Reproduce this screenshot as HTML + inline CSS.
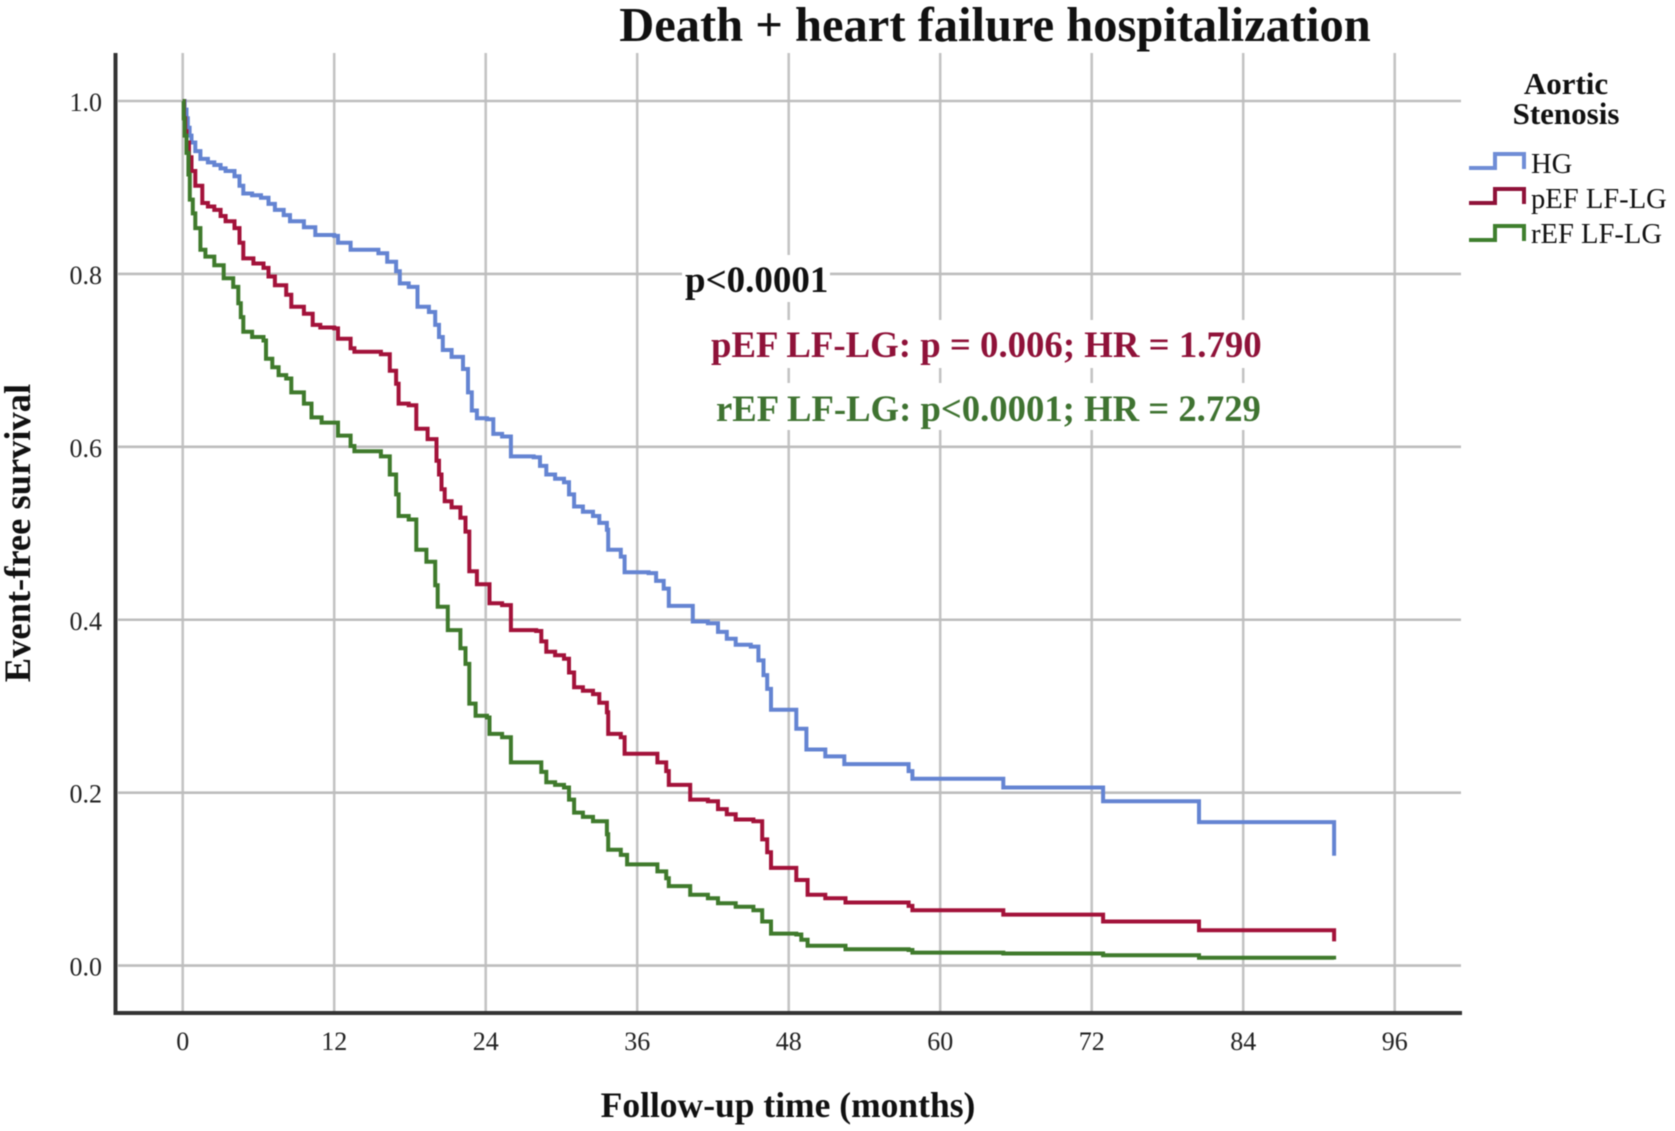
<!DOCTYPE html>
<html lang="en">
<head>
<meta charset="utf-8">
<title>Death + heart failure hospitalization</title>
<style>
html,body{margin:0;padding:0;background:#fff;}
svg{display:block;filter:blur(0.5px);}
text{font-family:"Liberation Serif",serif;}
</style>
</head>
<body>
<svg id="chart" xmlns="http://www.w3.org/2000/svg" width="1675" height="1131" viewBox="0 0 1675 1131">
  <g id="grid"></g>
  <rect x="682" y="255" width="148" height="47" fill="#fff"/>
  <rect x="706" y="320" width="558" height="48" fill="#fff"/>
  <rect x="711" y="383" width="553" height="47" fill="#fff"/>
  <g id="axes"></g>
  <g id="series"></g>

  <text x="995" y="41" text-anchor="middle" font-size="48.5" font-weight="bold" fill="#111">Death + heart failure hospitalization</text>
  <text transform="translate(30,533) rotate(-90)" text-anchor="middle" font-size="36.5" font-weight="bold" fill="#111">Event-free survival</text>
  <text x="788" y="1117" text-anchor="middle" font-size="35.5" font-weight="bold" fill="#111">Follow-up time (months)</text>

  <text x="685" y="292" font-size="37" font-weight="bold" fill="#111">p&lt;0.0001</text>
  <text x="711" y="357" font-size="36.8" font-weight="bold" fill="#8f1239">pEF LF-LG: p = 0.006; HR = 1.790</text>
  <text x="716" y="421" font-size="36.7" font-weight="bold" fill="#3f7331">rEF LF-LG: p&lt;0.0001; HR = 2.729</text>

  <g>
    <text x="1566" y="94" text-anchor="middle" font-size="31" font-weight="bold" fill="#111">Aortic</text>
    <text x="1566" y="124" text-anchor="middle" font-size="31" font-weight="bold" fill="#111">Stenosis</text>
    <path d="M1469 168H1495V154H1524V169" fill="none" stroke="#6f8dd6" stroke-width="4"/>
    <text x="1531" y="173" font-size="28.6" fill="#111">HG</text>
    <path d="M1469 203H1495V189H1524V204" fill="none" stroke="#8f1239" stroke-width="4"/>
    <text x="1531" y="208" font-size="28.6" fill="#111">pEF LF-LG</text>
    <path d="M1469 240H1495V226H1524V241" fill="none" stroke="#3f7f2e" stroke-width="4"/>
    <text x="1531" y="243" font-size="28.6" fill="#111">rEF LF-LG</text>
  </g>
</svg>
<script>
var xTickLabels = ["0","12","24","36","48","60","72","84","96"];
var xTickValues = [0,12,24,36,48,60,72,84,96];
var yTickLabels = ["0.0","0.2","0.4","0.6","0.8","1.0"];
var yTickValues = [0,0.2,0.4,0.6,0.8,1];

var hgMonths = [0,0.15,0.3,0.4,0.55,0.7,1,1.4,2,2.5,3,3.4,4.1,4.5,4.8,5.5,6.2,6.8,7.3,8,8.5,9.6,10.5,12,12.3,13.3,15.5,16.2,16.9,17.2,17.9,18.6,19.5,20,20.3,20.6,21.3,22.2,22.6,22.9,23.3,24.1,24.6,25.3,26,27.8,28.3,28.8,29.5,30.2,30.6,31,31.7,32.5,33,33.6,33.7,34.7,35,36.9,37.5,38.1,38.5,40.1,40.4,41.6,42.4,43.1,43.8,45,45.6,46,46.3,46.6,48.6,49.4,50.9,52.4,57.5,57.8,65,72.9,80.5,91.2];
var hgSurvival = [1,0.99,0.98,0.969,0.96,0.952,0.942,0.933,0.929,0.926,0.922,0.919,0.913,0.902,0.893,0.891,0.888,0.881,0.874,0.868,0.861,0.854,0.845,0.844,0.836,0.828,0.824,0.814,0.803,0.789,0.785,0.762,0.756,0.741,0.727,0.712,0.704,0.690,0.663,0.642,0.633,0.632,0.615,0.612,0.589,0.588,0.578,0.568,0.563,0.559,0.545,0.531,0.525,0.520,0.512,0.504,0.481,0.473,0.455,0.454,0.445,0.436,0.416,0.416,0.398,0.396,0.386,0.378,0.371,0.369,0.353,0.336,0.320,0.296,0.274,0.250,0.242,0.233,0.225,0.216,0.206,0.190,0.166,0.127];

var pefMonths = [0,0.1,0.2,0.3,0.5,0.7,1,1.55,2,2.5,3,3.4,4.1,4.5,4.8,5.6,6.4,6.8,7.3,8.2,8.6,9.6,10.3,10.9,12,12.3,13.3,13.6,15.7,16.4,16.9,17.1,17.9,18.5,19.4,20.1,20.3,20.5,20.75,21.3,22,22.4,22.7,23.3,24.3,25.3,26,28,28.4,28.8,29.5,30.2,30.6,31,31.7,32.5,33,33.6,33.7,34.7,35,36.9,37.6,38.3,38.5,40.2,40.4,41.6,42.4,43.1,43.8,45.2,45.9,46.3,46.6,48.6,49.5,50.9,52.5,57.5,57.8,65,72.9,80.5,91.2];
var pefSurvival = [1,0.98,0.965,0.952,0.935,0.919,0.902,0.882,0.878,0.874,0.867,0.861,0.853,0.836,0.818,0.812,0.807,0.797,0.787,0.776,0.762,0.754,0.741,0.738,0.737,0.725,0.714,0.710,0.707,0.688,0.673,0.650,0.648,0.621,0.609,0.584,0.568,0.551,0.537,0.530,0.518,0.502,0.456,0.441,0.419,0.417,0.388,0.387,0.375,0.363,0.359,0.355,0.339,0.322,0.318,0.314,0.304,0.293,0.268,0.264,0.245,0.245,0.235,0.225,0.209,0.192,0.192,0.190,0.181,0.175,0.169,0.167,0.146,0.131,0.113,0.099,0.082,0.078,0.073,0.069,0.064,0.059,0.051,0.041,0.028];

var refMonths = [0,0.08,0.15,0.3,0.45,0.56,0.8,1,1.4,1.8,2.5,3.25,4,4.4,4.6,4.8,5.5,6.4,6.6,7.1,7.6,8.2,8.6,9.6,10.2,11,12,12.3,13.3,13.6,15.7,16.4,16.9,17.1,17.9,18.5,19.3,20,20.2,21,22,22.4,22.7,23.2,24.1,24.3,25.3,26,28,28.4,28.8,29.5,30.2,30.6,31,31.7,32.5,33.6,33.7,34.7,35.2,36.9,37.6,38.3,38.5,40.2,40.4,41.6,42.4,43.8,45.2,45.9,46.6,48.6,49,49.5,52.5,57.5,57.8,65,72.9,80.5,91.2];
var refSurvival = [1,0.98,0.96,0.94,0.915,0.886,0.87,0.853,0.828,0.820,0.810,0.795,0.785,0.766,0.75,0.733,0.727,0.723,0.702,0.692,0.683,0.679,0.663,0.650,0.634,0.628,0.628,0.613,0.601,0.595,0.589,0.568,0.545,0.520,0.516,0.481,0.467,0.440,0.415,0.388,0.367,0.349,0.303,0.289,0.287,0.268,0.264,0.235,0.235,0.224,0.212,0.209,0.206,0.192,0.177,0.172,0.167,0.152,0.134,0.128,0.117,0.117,0.109,0.101,0.092,0.082,0.082,0.078,0.072,0.068,0.064,0.051,0.037,0.036,0.030,0.023,0.019,0.018,0.015,0.014,0.012,0.009,0.007];

var NS = "http://www.w3.org/2000/svg";
function xScale(m){ return 182.7 + m * (151.5 / 12); }
function yScale(s){ return 965.6 - s * 864.6; }

function makeLine(parent, x1, y1, x2, y2, color, width){
  var el = document.createElementNS(NS, "line");
  el.setAttribute("x1", x1);
  el.setAttribute("y1", y1);
  el.setAttribute("x2", x2);
  el.setAttribute("y2", y2);
  el.setAttribute("stroke", color);
  el.setAttribute("stroke-width", width);
  parent.appendChild(el);
  return el;
}
function makeText(parent, x, y, str, anchor){
  var el = document.createElementNS(NS, "text");
  el.setAttribute("x", x);
  el.setAttribute("y", y);
  el.setAttribute("text-anchor", anchor);
  el.setAttribute("font-size", "26");
  el.setAttribute("fill", "#222");
  el.textContent = str;
  parent.appendChild(el);
  return el;
}

var grid = document.getElementById("grid");
var axes = document.getElementById("axes");

xTickValues.forEach(function(v, i){
  var line = makeLine(grid, xScale(v), 53, xScale(v), 1013, "#c4c4c4", 2.6);
  
  
  var label = makeText(axes, xScale(v), 1050, xTickLabels[i], "middle");
  
  
});
yTickValues.forEach(function(v, i){
  var line = makeLine(grid, 118, yScale(v), 1461, yScale(v), "#bdbdbd", 2.6);
  
  
  var label = makeText(axes, 102, yScale(v) + 10, yTickLabels[i], "end");
  
  
});

var yAxisLine = makeLine(axes, 115.5, 53, 115.5, 1015, "#333", 4);


var xAxisLine = makeLine(axes, 114, 1013, 1462, 1013, "#333", 4);



function stepPath(months, survival){
  var d = "M" + xScale(months[0]).toFixed(1) + " " + yScale(survival[0]).toFixed(1);
  for (var i = 1; i < months.length; i++) {
    d += "H" + xScale(months[i]).toFixed(1) + "V" + yScale(survival[i]).toFixed(1);
  }
  return d;
}
function drawCurve(months, survival, color){
  var el = document.createElementNS(NS, "path");
  el.setAttribute("d", stepPath(months, survival));
  el.setAttribute("fill", "none");
  el.setAttribute("stroke", color);
  el.setAttribute("stroke-width", "4");
  el.setAttribute("stroke-linejoin", "miter");
  document.getElementById("series").appendChild(el);
  return el;
}
var hgCurve = drawCurve(hgMonths, hgSurvival, "#6484d2");


var pefCurve = drawCurve(pefMonths, pefSurvival, "#a3123a");


var refCurve = drawCurve(refMonths, refSurvival, "#3f7a2c");


</script>
</body>
</html>
